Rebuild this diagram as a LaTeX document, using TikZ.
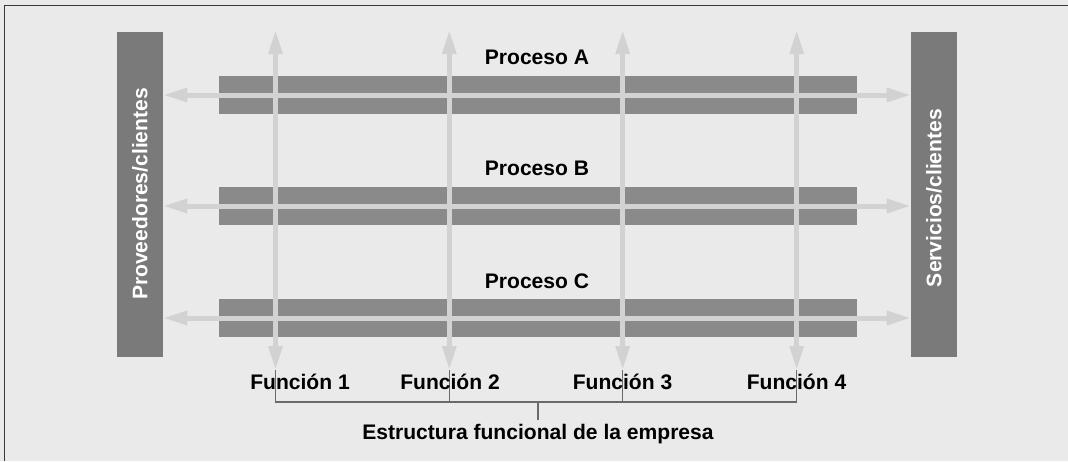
\documentclass[tikz,border=0pt]{standalone}
\usepackage{fontspec}
\setmainfont{Liberation Sans}
\usetikzlibrary{arrows.meta}
\definecolor{bg}{HTML}{EAEAEA}
\definecolor{sidecol}{HTML}{7A7A7A}
\definecolor{proccol}{HTML}{8A8A8A}
\definecolor{flowcol}{HTML}{D2D2D2}
\definecolor{framecol}{HTML}{3A3A3A}
\definecolor{brkcol}{HTML}{6A6A6A}
\begin{document}
\begin{tikzpicture}[x=0.75pt,y=-0.75pt,
  font=\fontsize{15.8}{18}\selectfont\bfseries,
  sidebar/.style={fill=sidecol, draw=none, inner sep=0pt, minimum width=34.5pt, minimum height=243.75pt},
  sidetext/.style={text=white, rotate=90, inner sep=0pt},
  procbar/.style={fill=proccol, draw=none, inner sep=0pt, minimum width=478.5pt, minimum height=28pt},
  proctext/.style={text=black, inner sep=0pt},
  flowarrow/.style={draw=flowcol, line width=3.75pt, {Triangle[length=18pt,width=10pt]}-{Triangle[length=18pt,width=10pt]}},
  funclabel/.style={text=black, inner sep=0pt},
  bracketline/.style={draw=brkcol, line width=0.9pt},
  frameline/.style={draw=framecol, line width=1.2pt}]
% background and frame
\fill[bg] (0,0) rectangle (1068,461);
\useasboundingbox (0,0) rectangle (1068,461);
\coordinate (fa) at (4.5,461);
\coordinate (fb) at (4.5,5.5);
\coordinate (fc) at (1068,5.5);
\draw[frameline] (fa) -- (fb) -- (fc);
% side bars
\node[sidebar] (lp) at (140,194.5) {};
\node[sidebar] (rp) at (934,194.5) {};
\node[sidetext] (lpt) at (140,194) {Proveedores/clientes};
\node[sidetext] (rpt) at (934,198) {Servicios/clientes};
% process bars
\node[procbar] (pa) at (538,95) {};
\node[procbar] (pb) at (538,206) {};
\node[procbar] (pc) at (538,318) {};
\node[proctext] (pat) at (537,57) {Proceso A};
\node[proctext] (pbt) at (537,168) {Proceso B};
\node[proctext] (pct) at (537,281) {Proceso C};
% horizontal flows
\draw[flowarrow] (lp.east |- pa.center) -- (rp.west |- pa.center);
\draw[flowarrow] (lp.east |- pb.center) -- (rp.west |- pb.center);
\draw[flowarrow] (lp.east |- pc.center) -- (rp.west |- pc.center);
% vertical functions
\coordinate (f1t) at (275.5,30);
\coordinate (f1b) at (275.5,370);
\coordinate (f2t) at (449.3,30);
\coordinate (f2b) at (449.3,370);
\coordinate (f3t) at (622.7,30);
\coordinate (f3b) at (622.7,370);
\coordinate (f4t) at (796.7,30);
\coordinate (f4b) at (796.7,370);
% bracket
\coordinate (bl) at (275.5,402);
\coordinate (br) at (796.7,402);
\coordinate (bc) at (538,402);
\coordinate (bt) at (538,420);
\draw[bracketline] (f1b) -- (bl) -- (br) -- (f4b);
\draw[bracketline] (f2b) -- (f2b |- bl);
\draw[bracketline] (f3b) -- (f3b |- bl);
\draw[bracketline] (bc) -- (bt);
\draw[flowarrow] (f1t) -- (f1b);
\draw[flowarrow] (f2t) -- (f2b);
\draw[flowarrow] (f3t) -- (f3b);
\draw[flowarrow] (f4t) -- (f4b);
% labels
\node[funclabel] (fl1) at (300,382) {Función 1};
\node[funclabel] (fl2) at (450,382) {Función 2};
\node[funclabel] (fl3) at (622.5,382) {Función 3};
\node[funclabel] (fl4) at (796.5,382) {Función 4};
\node[funclabel] (cap) at (538,434) {Estructura funcional de la empresa};
\end{tikzpicture}
\end{document}
